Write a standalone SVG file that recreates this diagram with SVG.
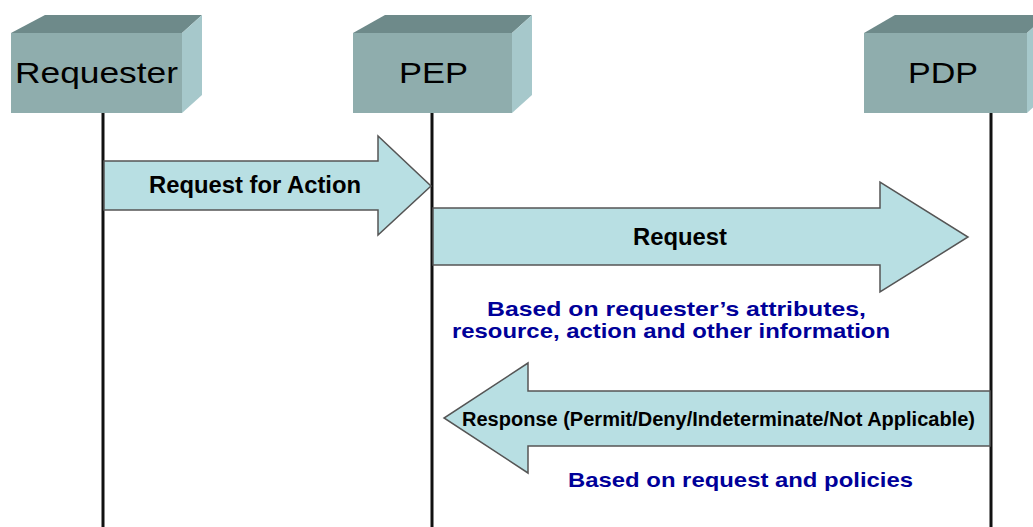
<svg xmlns="http://www.w3.org/2000/svg" width="1033" height="527" viewBox="0 0 1033 527">
  <style>
    .front { fill: #8fadad; }
    .top { fill: #6e8a8a; }
    .side { fill: #a6c8cb; }
    .lbl { font-family: "Liberation Sans", Arial, sans-serif; font-size: 30px; fill: #000; text-anchor: middle; }
    .life { stroke: #111; stroke-width: 3; fill: none; }
    .arrow { fill: #b8dfe3; stroke: #555; stroke-width: 1.5; stroke-linejoin: miter; }
    .msg { font-family: "Liberation Sans", Arial, sans-serif; font-weight: bold; fill: #000; text-anchor: middle; }
    .note { font-family: "Liberation Sans", Arial, sans-serif; font-weight: bold; font-size: 21px; fill: #000099; text-anchor: middle; }
  </style>
  <rect width="1033" height="527" fill="#ffffff"/>

  <!-- lifelines and message arrows -->
  <g id="connectors">
    <line class="life" x1="103" y1="113" x2="103" y2="527"/>
    <line class="life" x1="432" y1="113" x2="432" y2="527"/>
    <line class="life" x1="991" y1="113" x2="991" y2="527"/>

    <g id="msg-request-for-action">
      <polygon class="arrow" points="104,161 378,161 378,136 431,186 378,235 378,210 104,210"/>
      <text class="msg" x="255" y="193" font-size="23" textLength="212" lengthAdjust="spacingAndGlyphs">Request for Action</text>
    </g>
    <g id="msg-request">
      <polygon class="arrow" points="433,208 880,208 880,182 968,237 880,292 880,265 433,265"/>
      <text class="msg" x="680" y="245" font-size="23.5" textLength="94" lengthAdjust="spacingAndGlyphs">Request</text>
    </g>
    <text class="note" x="676.5" y="316" textLength="379" lengthAdjust="spacingAndGlyphs">Based on requester’s attributes,</text>
    <text class="note" x="671" y="338" textLength="438" lengthAdjust="spacingAndGlyphs">resource, action and other information</text>

    <g id="msg-response">
      <polygon class="arrow" points="990,391 528,391 528,363 444,418 528,473 528,446 990,446"/>
      <text class="msg" x="718.5" y="426" font-size="20" textLength="513" lengthAdjust="spacingAndGlyphs">Response (Permit/Deny/Indeterminate/Not Applicable)</text>
    </g>
    <text class="note" x="740.5" y="487" font-size="22" textLength="345" lengthAdjust="spacingAndGlyphs">Based on request and policies</text>
  </g>

  <!-- participants drawn as shaded blocks -->
  <g id="requester">
    <polygon class="top" points="11,33 45,15 202,15 182,33"/>
    <polygon class="side" points="182,33 202,15 202,95 182,113"/>
    <rect class="front" x="11" y="33" width="171" height="80"/>
    <text class="lbl" x="96.5" y="83" textLength="163" lengthAdjust="spacingAndGlyphs">Requester</text>
  </g>
  <g id="pep">
    <polygon class="top" points="353,33 385,15 532,15 512,33"/>
    <polygon class="side" points="512,33 532,15 532,95 512,113"/>
    <rect class="front" x="353" y="33" width="159" height="80"/>
    <text class="lbl" x="433.5" y="83" textLength="69" lengthAdjust="spacingAndGlyphs">PEP</text>
  </g>
  <g id="pdp">
    <polygon class="top" points="864,33 895,15 1047,15 1027,33"/>
    <polygon class="side" points="1027,33 1047,15 1047,95 1027,113"/>
    <rect class="front" x="864" y="33" width="163" height="80"/>
    <text class="lbl" x="943" y="83" textLength="70" lengthAdjust="spacingAndGlyphs">PDP</text>
  </g>
</svg>
